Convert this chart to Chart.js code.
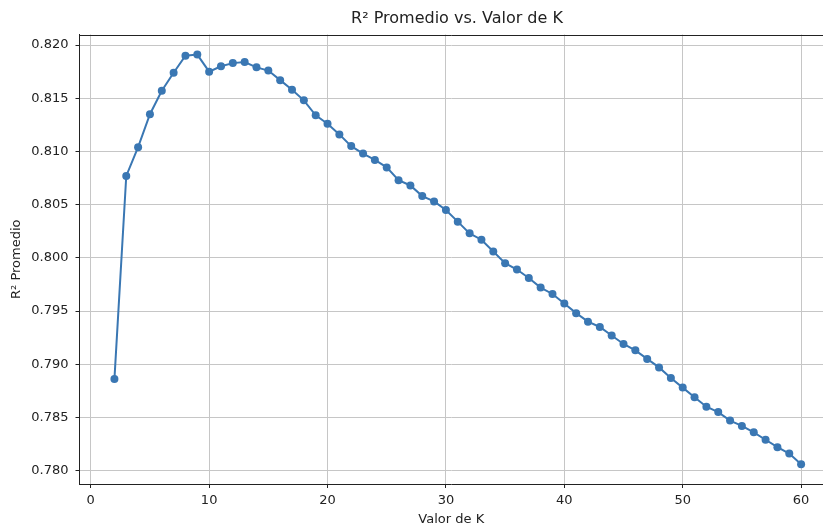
<!DOCTYPE html>
<html>
<head>
<meta charset="utf-8">
<script src="https://cdn.jsdelivr.net/npm/chart.js@4.4.1/dist/chart.umd.min.js"></script>
<style>
    html, body { margin: 0; padding: 0; background: #fff; overflow: hidden; }
</style>
</head>
<body>
<canvas id="r2Chart" width="823" height="525"></canvas>
<script>
const kValues = [2, 3, 4, 5, 6, 7, 8, 9, 10, 11, 12, 13, 14, 15, 16, 17, 18, 19, 20,
    21, 22, 23, 24, 25, 26, 27, 28, 29, 30, 31, 32, 33, 34, 35, 36, 37, 38, 39, 40,
    41, 42, 43, 44, 45, 46, 47, 48, 49, 50, 51, 52, 53, 54, 55, 56, 57, 58, 59, 60];

const r2Mean = [0.7886, 0.8077, 0.8104, 0.8135, 0.8157, 0.8174, 0.8190, 0.8191, 0.8175,
    0.8180, 0.8183, 0.8184, 0.8179, 0.8176, 0.8167, 0.8158, 0.8148, 0.8134, 0.8126,
    0.8116, 0.8105, 0.8098, 0.8092, 0.8085, 0.8073, 0.8068, 0.8058, 0.8053, 0.8045,
    0.8034, 0.8023, 0.8017, 0.8006, 0.7995, 0.7989, 0.7981, 0.7972, 0.7966, 0.7957,
    0.7948, 0.7940, 0.7935, 0.7927, 0.7919, 0.7913, 0.7905, 0.7897, 0.7887, 0.7878,
    0.7869, 0.7860, 0.7855, 0.7847, 0.7842, 0.7836, 0.7829, 0.7822, 0.7816, 0.7806];

const xTicks = [0, 10, 20, 30, 40, 50, 60];
const yTicks = [0.780, 0.785, 0.790, 0.795, 0.800, 0.805, 0.810, 0.815, 0.820];

const chartTitle = 'R² Promedio vs. Valor de K';
const xLabel = 'Valor de K';
const yLabel = 'R² Promedio';

const FONT = 'DejaVu Sans';
const lineColor = '#3a77b3';
const gridColor = '#c6c6c6';
const spineColor = '#222222';

// title + top spine, drawn by hand so the title sits over the full axes
const framePlugin = {
    id: 'frame',
    afterDraw(chart) {
        const { ctx, chartArea } = chart;
        ctx.save();
        ctx.strokeStyle = spineColor;
        ctx.lineWidth = 1;
        ctx.beginPath();
        ctx.moveTo(chartArea.left, Math.round(chartArea.top) + 0.5);
        ctx.lineTo(chartArea.right, Math.round(chartArea.top) + 0.5);
        ctx.stroke();

        ctx.fillStyle = '#222';
        ctx.font = '16px "' + FONT + '"';
        ctx.textAlign = 'center';
        ctx.textBaseline = 'middle';
        ctx.fillText(chartTitle, 457, 19);
        ctx.restore();
    }
};

const points = kValues.map((k, i) => ({ x: k, y: r2Mean[i] }));

new Chart(document.getElementById('r2Chart'), {
    type: 'line',
    data: {
        datasets: [{
            label: yLabel,
            data: points,
            borderColor: lineColor,
            backgroundColor: lineColor,
            borderWidth: 2,
            pointRadius: 4,
            pointHoverRadius: 4,
            pointBorderWidth: 0,
            fill: false,
            tension: 0
        }]
    },
    options: {
        responsive: false,
        animation: false,
        layout: { autoPadding: false, padding: { top: 34.5, left: 0, right: 0, bottom: 0 } },
        plugins: {
            legend: { display: false },
            tooltip: { enabled: false },
            title: { display: false }
        },
        scales: {
            x: {
                type: 'linear',
                min: -0.95,
                max: 61.85,
                afterFit(scale) {
                    scale.height = 41;
                    scale.paddingLeft = 0;
                    scale.paddingRight = 0;
                },
                afterBuildTicks(scale) { scale.ticks = xTicks.map(v => ({ value: v })); },
                ticks: {
                    includeBounds: false,
                    autoSkip: false,
                    maxRotation: 0,
                    padding: 5,
                    color: '#222',
                    font: { family: FONT, size: 13 }
                },
                grid: {
                    color: gridColor,
                    lineWidth: 1,
                    tickLength: 4,
                    tickColor: spineColor,
                    drawTicks: true
                },
                border: { color: spineColor, width: 1 },
                title: {
                    display: true,
                    text: xLabel,
                    color: '#222',
                    font: { family: FONT, size: 13 },
                    padding: { top: 0, bottom: -2 }
                }
            },
            y: {
                type: 'linear',
                min: 0.77874,
                max: 0.82099,
                afterFit(scale) { scale.width = 79.5; },
                afterBuildTicks(scale) { scale.ticks = yTicks.map(v => ({ value: v })); },
                ticks: {
                    includeBounds: false,
                    padding: 7,
                    color: '#222',
                    font: { family: FONT, size: 13 },
                    callback: v => v.toFixed(3)
                },
                grid: {
                    color: gridColor,
                    lineWidth: 1,
                    tickLength: 4,
                    tickColor: spineColor,
                    drawTicks: true
                },
                border: { color: spineColor, width: 1 },
                title: {
                    display: true,
                    text: yLabel,
                    color: '#222',
                    font: { family: FONT, size: 13 },
                    padding: { top: 9, bottom: 0 }
                }
            }
        }
    },
    plugins: [framePlugin]
});
</script>
</body>
</html>
